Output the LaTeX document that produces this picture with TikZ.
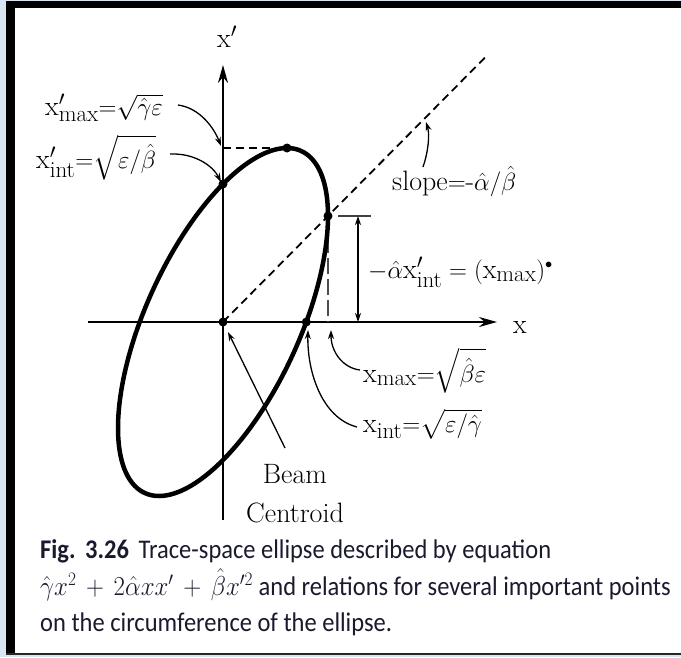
\documentclass[tikz,border=0pt]{standalone}
\usepackage{amsmath}
\usepackage{graphicx}
\usepackage{fontspec}
\newfontfamily\capfont{Carlito}
\usetikzlibrary{arrows.meta,calc}
\definecolor{bgblue}{RGB}{218,229,242}
\definecolor{capink}{RGB}{26,26,46}
\newcommand{\sbs}[1]{\text{\fontsize{23}{25}\selectfont #1}}
\begin{document}
\begin{tikzpicture}[x=1pt,y=-1pt,
  lbl/.style={font=\fontsize{28}{30}\selectfont, inner sep=0pt, anchor=base west},
  ann/.style={line width=1.3pt, -{Stealth[length=9pt,width=6pt]}},
  dsh/.style={line width=1.8pt, dash pattern=on 8pt off 5pt},
  dshlong/.style={line width=2pt, black!70, dash pattern=on 16pt off 5pt},
  dotc/.style={circle, fill=black, inner sep=0pt, minimum size=9pt},
  axisln/.style={line width=2pt, -{Stealth[length=18pt,width=10pt]}},
  captxt/.style={font=\capfont\fontsize{24.5}{28}\selectfont, text=capink, inner sep=0pt, anchor=base west}]
\useasboundingbox (0,0) rectangle (681,657);
\fill[bgblue] (0,0) rectangle (681,657);
\fill[white] (7,1) rectangle (681,655);

\coordinate (O) at (223,322);
\coordinate (XL) at (88,322);
\coordinate (XR) at (497,322);
\coordinate (YB) at (223,520);
\coordinate (YT) at (223,65);
\coordinate (T) at (287,148);
\coordinate (R) at (328,216);
\coordinate (XI) at (306.3,322);
\coordinate (YI) at (223,184);

% axes
\draw[axisln] (XL) -- (XR);
\draw[axisln] (YB) -- (YT);

% dashed lines
\draw[dsh] (T -| O) -- (T);
\draw[dsh] (O) -- ($(O)!2.5!(R)$);
\draw[dshlong] (R) -- (R |- O);

% ellipse
\draw[line width=4.5pt, line join=round]
  plot[domain=0:360, samples=145, smooth] ({223+105*cos(\x)}, {322-106*cos(\x)-138*sin(\x)});

% dots
\node[dotc] (dO) at (O) {};
\node[dotc] (dT) at (T) {};
\node[dotc] (dR) at (R) {};
\node[dotc] (dXI) at (XI) {};
\node[dotc] (dYI) at (YI) {};

% bar and double arrow
\coordinate (B1) at (338,216);
\coordinate (B2) at (371,216);
\coordinate (V1) at (358,216);
\coordinate (V2) at (358,322);
\draw[line width=2.5pt, black!75] (B1) -- (B2);
\draw[line width=1.3pt, {Stealth[length=9pt,width=6pt]}-{Stealth[length=9pt,width=6pt]}] (V1) -- (V2);

% labels
\node[lbl] (lxp) at (217,47) {$\mathrm{x}'$};
\node[lbl] (lx) at (513,333) {x};
\node[lbl] (lxpm) at (45,115) {$\mathrm{x}'_{\sbs{max}}{=}\sqrt{\hat{\gamma}\varepsilon}$};
\node[lbl] (lxpi) at (36,168) {$\mathrm{x}'_{\sbs{int}}{=}\sqrt{\varepsilon/\hat{\beta}}$};
\node[lbl] (lslope) at (392,190) {$\mathrm{slope}{=}\mbox{-}\hat{\alpha}/\hat{\beta}$};
\node[lbl] (lamx) at (368,278) {$-\hat{\alpha}\mathrm{x}'_{\sbs{int}} = (\mathrm{x}_{\sbs{max}})^{\scriptscriptstyle\bullet}$};
\node[lbl] (lxm) at (363,382) {$\mathrm{x}_{\sbs{max}}{=}\sqrt{\hat{\beta}\varepsilon}$};
\node[lbl] (lxi) at (363,432) {$\mathrm{x}_{\sbs{int}}{=}\sqrt{\varepsilon/\hat{\gamma}}$};
\node[lbl, anchor=base] (lbeam) at (295,483) {Beam};
\node[lbl, anchor=base] (lcen) at (295,522) {Centroid};

% annotation arrows
\coordinate (a1s) at (178,105); \coordinate (a1e) at (221,146);
\coordinate (a2s) at (170,154); \coordinate (a2e) at (221,182);
\coordinate (a3s) at (423,167); \coordinate (a3e) at (426,122);
\coordinate (a4s) at (285,448); \coordinate (a4e) at (228,332);
\coordinate (a5s) at (360,370); \coordinate (a5e) at (331,330);
\coordinate (a6s) at (357,427); \coordinate (a6e) at (308,330);
\draw[ann] (a1s) .. controls (200,108) and (214,128) .. (a1e);
\draw[ann] (a2s) .. controls (195,153) and (213,166) .. (a2e);
\draw[ann] (a3s) .. controls (428,153) and (430,135) .. (a3e);
\draw[ann] (a4s) -- (a4e);
\draw[ann] (a5s) .. controls (343,368) and (331,352) .. (a5e);
\draw[ann] (a6s) .. controls (322,418) and (307,372) .. (a6e);

% caption
\node[captxt] (c1) at (40,558) {\scalebox{1}[1.1]{\textbf{Fig.\ \,3.26}\ \,Trace-space ellipse described by equation}};
\node[captxt] (c2) at (40,595) {\scalebox{1}[1.1]{$\hat{\gamma}x^2\,+\,2\hat{\alpha}xx'\,+\,\hat{\beta}x'^2$ and relations for several important points}};
\node[captxt] (c3) at (40,631) {\scalebox{1}[1.1]{on the circumference of the ellipse.}};

% frame
\fill[black] (6,0.5) rectangle (15,655);
\fill[black] (6,0.5) rectangle (681,8);
\fill[black!85] (6,653) rectangle (681,655);
\end{tikzpicture}
\end{document}
